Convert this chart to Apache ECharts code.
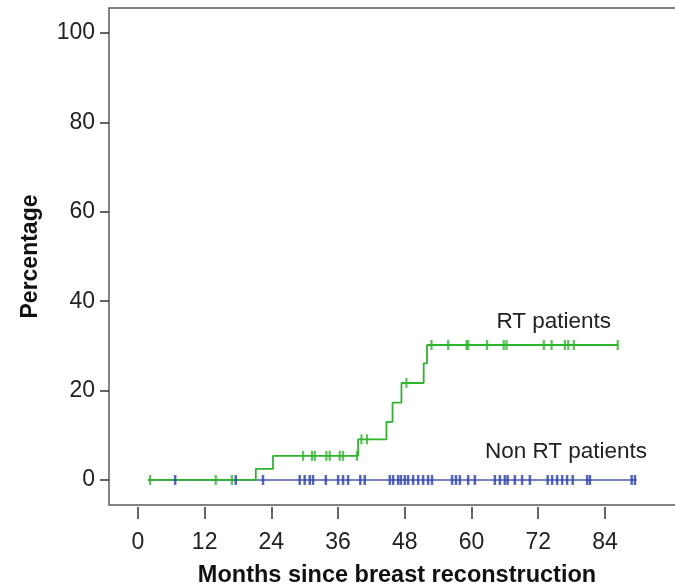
<!DOCTYPE html>
<html>
<head>
<meta charset="utf-8">
<script src="https://cdn.jsdelivr.net/npm/echarts@6/dist/echarts.min.js"></script>
<style>
  html, body { margin: 0; padding: 0; background: #fff; }
  #main { width: 675px; height: 586px; }
</style>
</head>
<body>
<div id="main"></div>
<script>
// tick labels
const xTicks = [0, 12, 24, 36, 48, 60, 72, 84];
const yTicks = [0, 20, 40, 60, 80, 100];

// RT patients: step curve [month, percentage]
const rtSteps = [
  [1.8, 0], [21.2, 2.5], [24.3, 5.4], [39.6, 9.1], [44.7, 13.0],
  [45.8, 17.3], [47.4, 21.7], [51.4, 26.1], [52.0, 30.2], [86.3, 30.2]
];
// RT censored months
const rtCensor = [
  2.2, 14.0, 16.9, 29.7, 31.3, 31.8, 33.9, 34.5, 36.3, 36.9, 39.4,
  40.2, 41.2, 48.3, 52.8, 55.8, 59.1, 59.4, 62.8, 65.8, 66.3,
  73.0, 74.4, 76.8, 77.4, 78.4, 86.3
];

// Non RT patients: flat at 0
const nonRtSteps = [[1.8, 0], [89.7, 0]];
const nonRtCensor = [
  6.7, 17.6, 22.5, 29.1, 30.0, 30.9, 31.5, 33.8, 36.0, 36.9, 37.8,
  40.0, 40.8, 45.3, 45.9, 46.8, 47.3, 48.0, 48.6, 49.5, 50.4, 51.3,
  52.2, 52.9, 56.5, 57.2, 57.9, 59.4, 60.6, 64.2, 65.1, 66.0, 66.5,
  67.8, 69.1, 70.5, 73.7, 74.5, 75.4, 76.3, 77.2, 78.2, 80.8, 81.3,
  88.8, 89.4
];

const green = '#2db52d';
const blueMark = '#2a3fb5';
const blueLine = '#4d5ca8';
const font = 'Liberation Sans, Arial, sans-serif';

// censor value = level of the step curve at that month
function levelAt(steps, m) {
  let v = steps[0][1];
  for (const s of steps) { if (s[0] <= m) v = s[1]; }
  return v;
}

const chart = echarts.init(document.getElementById('main'), null, { renderer: 'canvas' });

const option = {
  backgroundColor: '#fff',
  animation: false,
  grid: {
    left: 109, top: 8, right: -10, bottom: 81,
    outerBoundsMode: 'none', containLabel: false,
    show: true, borderColor: '#5a5a5a', borderWidth: 1.5, backgroundColor: 'transparent'
  },
  xAxis: {
    type: 'value', min: -5.2, max: 98.4, offset: 2,
    name: 'Months since breast reconstruction',
    nameLocation: 'middle', nameGap: 57,
    nameTextStyle: { fontFamily: font, fontSize: 23.5, fontWeight: 'bold', color: '#111' },
    axisLine: { show: false, onZero: false },
    axisTick: { show: true, length: 12, customValues: xTicks, lineStyle: { color: '#333', width: 1.5 } },
    axisLabel: { customValues: xTicks, fontFamily: font, fontSize: 23, color: '#222', margin: 24 },
    splitLine: { show: false }
  },
  yAxis: {
    type: 'value', min: -5.6, max: 105.6,
    name: 'Percentage', nameLocation: 'middle', nameGap: 67, nameRotate: 90,
    nameTextStyle: { fontFamily: font, fontSize: 23, fontWeight: 'bold', color: '#111' },
    axisLine: { show: false, onZero: false },
    axisTick: { show: true, length: 9, customValues: yTicks, lineStyle: { color: '#333', width: 1.5 } },
    axisLabel: { customValues: yTicks, fontFamily: font, fontSize: 23, color: '#222', margin: 14 },
    splitLine: { show: false }
  },
  series: [
    {
      name: 'Non RT patients', type: 'line', step: 'end', data: nonRtSteps,
      symbol: 'none', lineStyle: { color: blueLine, width: 1.5 },
      markPoint: {
        symbol: 'circle', symbolSize: 0,
        label: { show: true, formatter: 'Non RT patients', fontFamily: font, fontSize: 22.5, color: '#222' },
        data: [{ coord: [77, 6.3] }]
      },
      z: 2
    },
    {
      name: 'RT patients', type: 'line', step: 'end', data: rtSteps,
      symbol: 'none', lineStyle: { color: green, width: 1.8 },
      markPoint: {
        symbol: 'circle', symbolSize: 0,
        label: { show: true, formatter: 'RT patients', fontFamily: font, fontSize: 22.5, color: '#222' },
        data: [{ coord: [74.8, 35.3] }]
      },
      z: 3
    },
    {
      name: 'Non RT censored', type: 'scatter',
      data: nonRtCensor.map(m => [m, levelAt(nonRtSteps, m)]),
      symbol: 'rect', symbolSize: [2.5, 10],
      itemStyle: { color: blueMark }, z: 4
    },
    {
      name: 'RT censored', type: 'scatter',
      data: rtCensor.map(m => [m, levelAt(rtSteps, m)]),
      symbol: 'rect', symbolSize: [2.2, 10],
      itemStyle: { color: green }, z: 5
    }
  ]
};

chart.setOption(option);
</script>
</body>
</html>
